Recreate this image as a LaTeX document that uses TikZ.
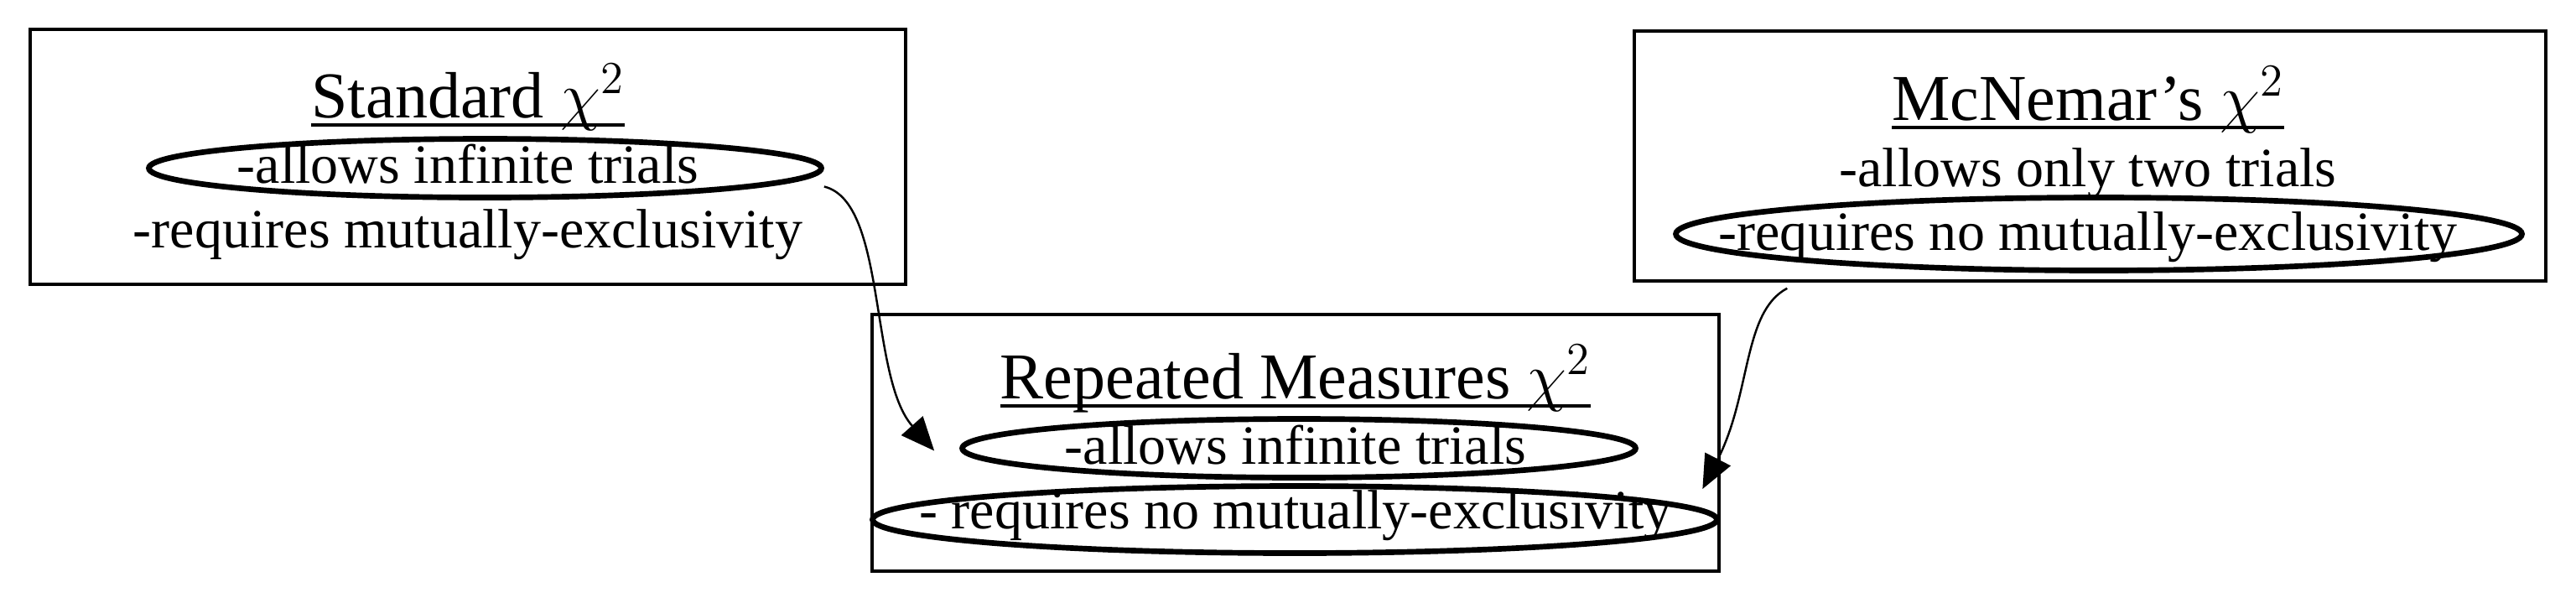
\RequirePackage{fix-cm}
\documentclass[tikz,border=0pt]{standalone}
\usepackage{fontspec}
\setmainfont{Liberation Serif}
\usepackage{tikz}
\usetikzlibrary{
    arrows.meta,
    shapes.geometric
}
\newcommand{\ulttl}[1]{\setbox0=\hbox{#1}\rlap{\rule[-0.135em]{\wd0}{0.04em}}\box0}
\tikzset{
    cbox/.style={draw=black, line width=1pt, inner sep=0pt},
    cring/.style={draw=black, ellipse, line width=1.9pt, inner sep=0pt},
    ctitle/.style={anchor=base, font=\fontsize{22.2}{26}\selectfont},
    citem/.style={anchor=base, font=\fontsize{18.8}{22}\selectfont},
    carr/.style={-{Triangle[length=0.4cm, width=0.34cm]}, line width=0.7pt}
}

\begin{document}
\begin{tikzpicture}
    \useasboundingbox (0, 0) rectangle (30.72, -7.18);
    \node[cbox, minimum width=10.44cm, minimum height=3.04cm] (std) at (5.58, -1.87) {};
    \node[cbox, minimum width=10.10cm, minimum height=3.06cm] (rm) at (15.45, -5.28) {};
    \node[cbox, minimum width=10.87cm, minimum height=2.98cm] (mcn) at (24.925, -1.86) {};
    \node[cring, minimum width=8.02cm, minimum height=0.70cm] (stdring) at (5.785, -2.005) {};
    \node[cring, minimum width=8.03cm, minimum height=0.70cm] (rmringa) at (15.49, -5.345) {};
    \node[cring, minimum width=10.07cm, minimum height=0.80cm] (rmringb) at (15.44, -6.195) {};
    \node[cring, minimum width=10.09cm, minimum height=0.87cm] (mcnring) at (25.03, -2.79) {};
    \node[ctitle] (stdttl) at (5.58, -1.40) {\ulttl{Standard $\chi^2$}};
    \node[citem] (stda) at (5.58, -2.18) {-allows infinite trials};
    \node[citem] (stdb) at (5.58, -2.95) {-requires mutually-exclusivity};
    \node[ctitle] (rmttl) at (15.45, -4.75) {\ulttl{Repeated Measures $\chi^2$}};
    \node[citem] (rma) at (15.45, -5.53) {-allows infinite trials};
    \node[citem] (rmb) at (15.45, -6.30) {- requires no mutually-exclusivity};
    \node[ctitle] (mcnttl) at (24.90, -1.43) {\ulttl{McNemar's $\chi^2$}};
    \node[citem] (mcna) at (24.90, -2.22) {-allows only two trials};
    \node[citem] (mcnb) at (24.90, -2.98) {-requires no mutually-exclusivity};
    \draw[carr] ([yshift=-0.22cm]stdring.east) .. controls +(0.75, -0.18) and +(-0.78, 0.88) .. ([shift={(-0.3, -0.03)}]rmringa.west);
    \draw[carr] ([shift={(1.84, -0.07)}]mcn.south west) .. controls +(-0.53, -0.28) and +(0.58, 1.13) .. ([shift={(-0.205, 0.365)}]rmringb.east);
\end{tikzpicture}
\end{document}
